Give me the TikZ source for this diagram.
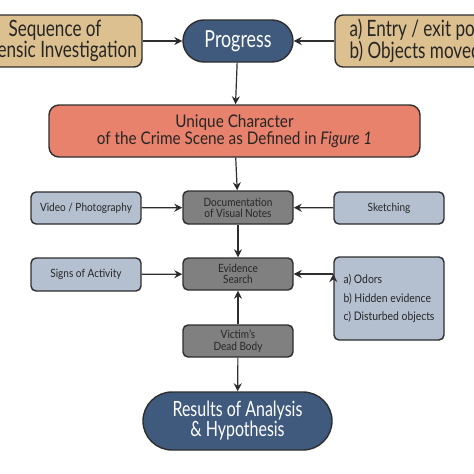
\documentclass[tikz,border=0pt]{standalone}
\usepackage{fontspec}
\setmainfont{Lato}[FakeStretch=0.88]
\newfontfamily\condfont{Lato}[FakeStretch=0.76]
\usetikzlibrary{arrows.meta}
\definecolor{tanbox}{HTML}{DCC08F}
\definecolor{bluepill}{HTML}{3F5A7D}
\definecolor{salmon}{HTML}{E8826C}
\definecolor{greybox}{HTML}{808080}
\definecolor{paleblue}{HTML}{B4C0D0}
\definecolor{edge}{HTML}{2E2E2E}
\tikzset{
  base/.style={draw=edge, line width=1.4pt, align=center, inner sep=0pt, text=black!85},
  tanbx/.style={base, fill=tanbox, rounded corners=8pt, minimum width=174pt, minimum height=52pt,
    font=\condfont\fontsize{22.5}{20}\selectfont},
  pill/.style={base, fill=bluepill, text=white},
  redbx/.style={base, fill=salmon, rounded corners=10pt, minimum width=371pt, minimum height=52pt,
    font=\fontsize{17.4}{16.5}\selectfont},
  greybx/.style={base, fill=greybox, rounded corners=5pt, minimum width=110pt, minimum height=32pt,
    font=\fontsize{11.4}{11}\selectfont},
  palebx/.style={base, fill=paleblue, rounded corners=5pt, minimum width=110pt, minimum height=32pt,
    font=\fontsize{11.4}{12}\selectfont},
  arr/.style={-{Stealth[length=8pt,width=8pt]}, line width=1.2pt, draw=edge}
}
\begin{document}
\begin{tikzpicture}[x=1pt,y=-1pt]
  \useasboundingbox (0,0) rectangle (474,474);
  \clip (0,0) rectangle (474,474);
  % top row
  \node[tanbx] (seq) at (55,41) {Sequence of\\Forensic Investigation};
  \node[pill, rounded corners=21pt, minimum width=110pt, minimum height=42pt,
    font=\condfont\fontsize{23.5}{20}\selectfont] (prog) at (238,41) {Progress};
  \node[tanbx, align=left] (entry) at (422,41) {a) Entry / exit point\\b) Objects moved};
  \node[redbx] (unique) at (234.5,131) {Unique Character\\of the Crime Scene as Defined in \textit{Figure 1}};
  % middle
  \node[greybx, minimum height=33pt] (doc) at (238,207.5) {Documentation\\of Visual Notes};
  \node[palebx] (video) at (86,208) {Video / Photography};
  \node[palebx] (sketch) at (389,208) {Sketching};
  \node[greybx] (evid) at (238,274) {Evidence\\Search};
  \node[palebx, minimum height=83pt, align=left,
    font=\fontsize{11.8}{18.5}\selectfont] (odors) at (389,298.5)
    {a) Odors\\b) Hidden evidence\\c) Disturbed objects};
  \node[palebx, minimum height=33pt] (signs) at (86,274.5) {Signs of Activity};
  \node[greybx, font=\fontsize{11.4}{11.5}\selectfont] (victim) at (238,341) {Victim's\\Dead Body};
  % bottom
  \node[pill, rounded corners=29pt, minimum width=189pt, minimum height=58pt,
    font=\condfont\fontsize{21}{17}\selectfont] (res) at (237.5,421) {Results of Analysis\\\& Hypothesis};
  \path[arr] (seq) edge (prog);
  \path[arr] (entry) edge (prog);
  \path[arr] (prog) edge (unique);
  \path[arr] (unique) edge (doc);
  \path[arr] (video) edge (doc);
  \path[arr] (sketch) edge (doc);
  \path[arr] (doc) edge (evid);
  \path[arr] (signs) edge (evid);
  \path[arr] (odors.west |- evid.east) edge (evid.east);
  \path[arr] (victim) edge (evid);
  \path[arr] (victim) edge (res);
\end{tikzpicture}
\end{document}
